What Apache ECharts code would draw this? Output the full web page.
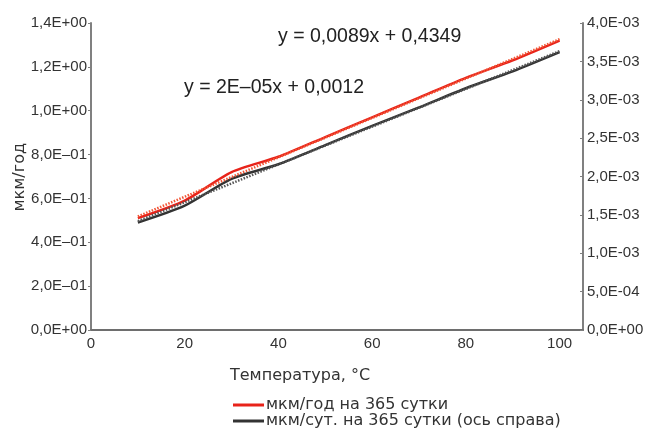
<!DOCTYPE html>
<html>
<head>
<meta charset="utf-8">
<script src="https://cdn.jsdelivr.net/npm/echarts@6/dist/echarts.min.js"></script>
<style>
  html, body { margin: 0; padding: 0; background: #fff; }
  #chart { width: 648px; height: 432px; }
</style>
</head>
<body>
<div id="chart"></div>
<script>
// Temperature, °C
const temperatures = [10, 20, 30, 40, 50, 60, 70, 80, 90, 100];
// Corrosion rate, µm per year over 365 days (left axis)
const ratePerYear = [0.51, 0.59, 0.72, 0.79, 0.88, 0.97, 1.06, 1.15, 1.23, 1.32];
// Corrosion rate, µm per day over 365 days (right axis)
const ratePerDay = [0.00140, 0.00162, 0.00197, 0.00216, 0.00241, 0.00266, 0.00290, 0.00315, 0.00337, 0.00362];

const seriesNames = ['мкм/год на 365 сутки', 'мкм/сут. на 365 сутки (ось справа)'];
const equationYear = 'y = 0,0089x + 0,4349';
const equationDay = 'y = 2E–05x + 0,0012';
const xTicks = [0, 20, 40, 60, 80, 100];

const FONT = '"Liberation Sans", Arial, sans-serif';
const FONT_CYR = '"DejaVu Sans", sans-serif';
const TEXT = '#333';

// Least-squares straight line over the data range
function linearFit(xs, ys) {
  const n = xs.length;
  const mx = xs.reduce((a, b) => a + b, 0) / n;
  const my = ys.reduce((a, b) => a + b, 0) / n;
  let sxy = 0, sxx = 0;
  for (let i = 0; i < n; i++) {
    sxy += (xs[i] - mx) * (ys[i] - my);
    sxx += (xs[i] - mx) * (xs[i] - mx);
  }
  const k = sxy / sxx, b = my - k * mx;
  const x0 = xs[0], x1 = xs[n - 1];
  return [[x0, k * x0 + b], [x1, k * x1 + b]];
}

// Scientific notation with decimal comma: 1,4E+00 / 8,0E–01
function sci(v, minus) {
  if (Math.abs(v) < 1e-12) return '0,0E+00';
  let e = Math.floor(Math.log10(Math.abs(v)) + 1e-9);
  let m = v / Math.pow(10, e);
  if (Math.abs(m) >= 9.95) { m /= 10; e += 1; }
  const mant = m.toFixed(1).replace('.', ',');
  const sign = e < 0 ? minus : '+';
  return mant + 'E' + sign + String(Math.abs(e)).padStart(2, '0');
}

const pairs = (xs, ys) => xs.map((x, i) => [x, ys[i]]);

function legendRow(name, top) {
  return {
    orient: 'horizontal',
    left: 228, top: top,
    itemWidth: 31, itemHeight: 3, itemGap: 0,
    icon: 'rect',
    data: [name],
    textStyle: { color: TEXT, fontSize: 16, fontFamily: FONT_CYR, padding: [0, 0, 0, -3] }
  };
}

const chart = echarts.init(document.getElementById('chart'), null, { renderer: 'canvas' });

chart.setOption({
  backgroundColor: '#fff',
  animation: false,
  textStyle: { fontFamily: FONT },
  grid: { left: 91, right: 65, top: 23, bottom: 102, containLabel: false },
  xAxis: {
    type: 'value',
    min: 0, max: 105, interval: 20,
    axisLine: { show: true, lineStyle: { color: '#6e6e6e', width: 2 } },
    axisTick: { show: false },
    splitLine: { show: false },
    axisLabel: {
      color: TEXT, fontSize: 15, fontFamily: FONT, margin: 6,
      showMaxLabel: false,
      formatter: v => (xTicks.indexOf(Math.round(v)) >= 0 ? String(Math.round(v)) : '')
    }
  },
  yAxis: [
    {
      type: 'value',
      min: 0, max: 1.4, interval: 0.2,
      position: 'left',
      axisLine: { show: true, lineStyle: { color: '#808080', width: 2 } },
      axisTick: { show: true, length: 3, lineStyle: { color: '#808080' } },
      splitLine: { show: false },
      axisLabel: { color: TEXT, fontSize: 15, fontFamily: FONT, margin: 4, formatter: v => sci(v, '–') }
    },
    {
      type: 'value',
      min: 0, max: 0.004, interval: 0.0005,
      position: 'right',
      axisLine: { show: true, lineStyle: { color: '#808080', width: 2 } },
      axisTick: { show: true, length: 3, inside: true, lineStyle: { color: '#808080' } },
      splitLine: { show: false },
      axisLabel: { color: TEXT, fontSize: 15, fontFamily: FONT, margin: 4, formatter: v => sci(v, '-') }
    }
  ],
  legend: [legendRow(seriesNames[0], 392), legendRow(seriesNames[1], 408)],
  graphic: [
    { type: 'text', left: 278, top: 27, style: { text: equationYear, font: '19.5px ' + FONT, fill: '#222' } },
    { type: 'text', left: 184, top: 78, style: { text: equationDay, font: '19.5px ' + FONT, fill: '#222' } },
    { type: 'text', left: 230, top: 368, style: { text: 'Температура, °C', font: '16px ' + FONT_CYR, fill: TEXT } },
    { type: 'text', left: 12, top: 143, rotation: Math.PI / 2,
      style: { text: 'мкм/год', font: '16px ' + FONT_CYR, fill: TEXT } }
  ],
  series: [
    {
      name: seriesNames[0], type: 'line', yAxisIndex: 0,
      data: pairs(temperatures, ratePerYear),
      smooth: 0.25, showSymbol: false,
      lineStyle: { color: '#e8231a', width: 2.5 }, itemStyle: { color: '#e8231a' }, z: 2
    },
    {
      name: seriesNames[1], type: 'line', yAxisIndex: 1,
      data: pairs(temperatures, ratePerDay),
      smooth: 0.25, showSymbol: false,
      lineStyle: { color: '#333', width: 2.5 }, itemStyle: { color: '#333' }, z: 2
    },
    {
      name: 'trendYear', type: 'line', yAxisIndex: 0,
      data: linearFit(temperatures, ratePerYear),
      showSymbol: false, silent: true,
      lineStyle: { color: '#f25535', width: 2.5, type: [1.5, 1.5] }, z: 3
    },
    {
      name: 'trendDay', type: 'line', yAxisIndex: 1,
      data: linearFit(temperatures, ratePerDay),
      showSymbol: false, silent: true,
      lineStyle: { color: '#555', width: 2.5, type: [1.5, 1.5] }, z: 3
    }
  ]
});
</script>
</body>
</html>
